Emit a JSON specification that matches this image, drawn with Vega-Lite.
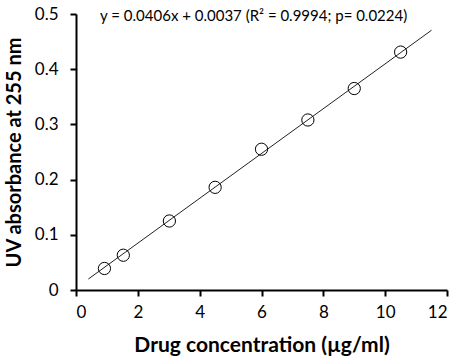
{
  "$schema": "https://vega.github.io/schema/vega-lite/v6.json",
  "width": 371,
  "height": 276,
  "autosize": {"type": "none"},
  "padding": {"left": 76, "top": 14, "right": 11, "bottom": 73},
  "background": "white",
  "config": {
    "view": {"stroke": null},
    "axis": {
      "grid": false,
      "domainColor": "#000000",
      "domainWidth": 2,
      "tickColor": "#000000",
      "tickWidth": 2,
      "tickSize": 6,
      "labelFont": "Lato",
      "labelFontSize": 17,
      "labelColor": "#000000",
      "titleFont": "Lato",
      "titleFontSize": 21,
      "titleFontWeight": "bold",
      "titleColor": "#000000"
    }
  },
  "datasets": {
    "points": [
      {"conc": 0.92, "abs": 0.039},
      {"conc": 1.53, "abs": 0.063},
      {"conc": 3.02, "abs": 0.125},
      {"conc": 4.5, "abs": 0.186},
      {"conc": 6.0, "abs": 0.255},
      {"conc": 7.5, "abs": 0.308},
      {"conc": 9.0, "abs": 0.365},
      {"conc": 10.5, "abs": 0.431}
    ],
    "fit": [
      {"conc": 0.4, "abs": 0.0199},
      {"conc": 11.5, "abs": 0.4706}
    ],
    "note": [
      {"conc": 0.78, "abs": 0.497, "label": "y = 0.0406x + 0.0037 (R² = 0.9994; p= 0.0224)"}
    ]
  },
  "layer": [
    {
      "data": {"name": "fit"},
      "mark": {"type": "line", "color": "#222222", "strokeWidth": 1},
      "encoding": {
        "x": {"field": "conc", "type": "quantitative", "scale": {"domain": [0, 12], "nice": false},
              "axis": {"values": [0, 2, 4, 6, 8, 10, 12], "title": "Drug concentration (µg/ml)", "labelPadding": 8, "titlePadding": 14}},
        "y": {"field": "abs", "type": "quantitative", "scale": {"domain": [0, 0.5], "nice": false},
              "axis": {"values": [0, 0.1, 0.2, 0.3, 0.4, 0.5], "format": ".1~f", "title": "UV absorbance at 255 nm", "titleFontSize": 20, "labelPadding": 12, "titlePadding": 10}}
      }
    },
    {
      "data": {"name": "points"},
      "mark": {"type": "point", "shape": "circle", "filled": false, "stroke": "#000000", "strokeWidth": 1, "size": 150, "opacity": 1},
      "encoding": {
        "x": {"field": "conc", "type": "quantitative"},
        "y": {"field": "abs", "type": "quantitative"}
      }
    },
    {
      "data": {"name": "note"},
      "mark": {"type": "text", "align": "left", "baseline": "middle", "font": "Lato", "fontSize": 15, "color": "#000000"},
      "encoding": {
        "x": {"field": "conc", "type": "quantitative"},
        "y": {"field": "abs", "type": "quantitative"},
        "text": {"field": "label"}
      }
    }
  ]
}
